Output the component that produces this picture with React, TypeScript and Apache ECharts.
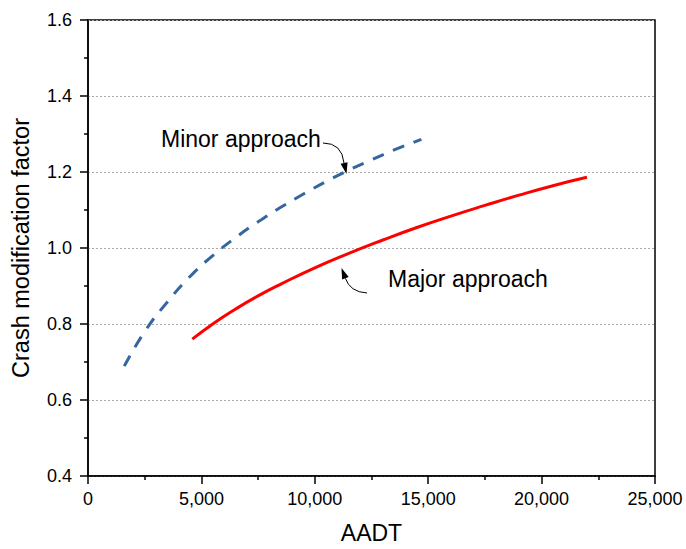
import React, { useEffect, useRef } from "react";
import * as echarts from "echarts";

const minorX = [1600, 2500, 3500, 4500, 5500, 6500, 7500, 8500, 9500, 10500, 11500, 12500, 13500, 14700];
const minorY = [0.689, 0.78, 0.858, 0.925, 0.98, 1.027, 1.069, 1.107, 1.142, 1.175, 1.205, 1.232, 1.258, 1.286];

const majorX = [4600, 5500, 6500, 7500, 8500, 10000, 11500, 13000, 14500, 16000, 17500, 19000, 20500, 22000];
const majorY = [0.76, 0.8, 0.839, 0.874, 0.905, 0.948, 0.986, 1.021, 1.054, 1.084, 1.112, 1.139, 1.164, 1.186];

const xTicks = { min: 0, max: 25000, interval: 5000 };
const yTicks = { min: 0.4, max: 1.6, interval: 0.2 };

const labels = {
  minor: "Minor approach",
  major: "Major approach",
  xName: "AADT",
  yName: "Crash modification factor",
};

const FONT = "'Liberation Sans', Arial, sans-serif";

export default function App() {
  const ref = useRef<HTMLDivElement>(null);

  useEffect(() => {
    document.body.style.margin = "0";
    if (!ref.current) return;
    const chart = echarts.init(ref.current, undefined, { renderer: "svg" });
    const pairs = (xs: number[], ys: number[]) => xs.map((x, i) => [x, ys[i]]);

    chart.setOption({
      animation: false,
      backgroundColor: "#fff",
      grid: {
        left: 88,
        right: 31,
        top: 20,
        bottom: 71,
        show: true,
        borderColor: "#000",
        borderWidth: 1.5,
      },
      xAxis: {
        type: "value",
        min: xTicks.min,
        max: xTicks.max,
        interval: xTicks.interval,
        name: labels.xName,
        nameLocation: "middle",
        nameGap: 45,
        nameTextStyle: { fontFamily: FONT, fontSize: 23, color: "#000" },
        axisLine: { show: true, lineStyle: { color: "#000", width: 1.5 } },
        axisTick: { show: true, inside: false, length: 8, lineStyle: { color: "#000", width: 1.5 } },
        minorTick: { show: true, splitNumber: 2, length: 4, lineStyle: { color: "#000", width: 1.5 } },
        splitLine: { show: false },
        axisLabel: {
          fontFamily: FONT,
          fontSize: 18,
          color: "#000",
          margin: 14,
          formatter: (v: number) => v.toLocaleString("en-US"),
        },
      },
      yAxis: {
        type: "value",
        min: yTicks.min,
        max: yTicks.max,
        interval: yTicks.interval,
        name: labels.yName,
        nameLocation: "middle",
        nameGap: 55,
        nameTextStyle: { fontFamily: FONT, fontSize: 23.5, color: "#000" },
        axisLine: { show: true, lineStyle: { color: "#000", width: 1.5 } },
        axisTick: { show: true, inside: false, length: 8, lineStyle: { color: "#000", width: 1.5 } },
        minorTick: { show: true, splitNumber: 2, length: 4, lineStyle: { color: "#000", width: 1.5 } },
        splitLine: { show: true, lineStyle: { color: "#aaa", type: [2, 2], width: 1 } },
        axisLabel: {
          fontFamily: FONT,
          fontSize: 18,
          color: "#000",
          margin: 16,
          formatter: (v: number) => v.toFixed(1),
        },
      },
      series: [
        {
          type: "line",
          name: labels.minor,
          data: pairs(minorX, minorY),
          smooth: 0.5,
          showSymbol: false,
          lineStyle: { color: "#3466a0", width: 3, type: [12, 10], cap: "butt" },
        },
        {
          type: "line",
          name: labels.major,
          data: pairs(majorX, majorY),
          smooth: 0.5,
          showSymbol: false,
          lineStyle: { color: "#ff0000", width: 3 },
        },
      ],
      graphic: [
        {
          type: "text",
          left: 161,
          top: 127,
          style: { text: labels.minor, fontFamily: FONT, fontSize: 23, fill: "#000" },
        },
        {
          type: "text",
          left: 388,
          top: 267,
          style: { text: labels.major, fontFamily: FONT, fontSize: 23, fill: "#000" },
        },
        {
          type: "bezierCurve",
          shape: { x1: 323, y1: 143, cpx1: 342, cpy1: 143, x2: 344, y2: 163 },
          style: { stroke: "#000", lineWidth: 1, fill: null },
        },
        {
          type: "polygon",
          shape: { points: [[346.5, 174], [347.6, 162.2], [340.6, 163.8]] },
          style: { fill: "#000" },
        },
        {
          type: "bezierCurve",
          shape: { x1: 367, y1: 293, cpx1: 350, cpy1: 292, x2: 345.4, y2: 278.3 },
          style: { stroke: "#000", lineWidth: 1, fill: null },
        },
        {
          type: "polygon",
          shape: { points: [[341.5, 268], [348.7, 277.1], [342.1, 279.5]] },
          style: { fill: "#000" },
        },
      ],
    });

    return () => chart.dispose();
  }, []);

  return <div ref={ref} style={{ width: 686, height: 549 }} />;
}
